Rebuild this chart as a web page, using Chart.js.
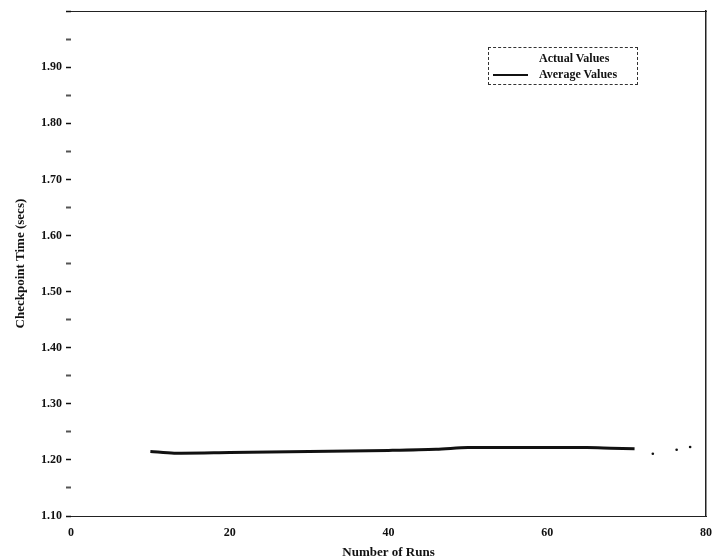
<!DOCTYPE html>
<html>
<head>
<meta charset="utf-8">
<script src="https://cdn.jsdelivr.net/npm/chart.js@4.4.0/dist/chart.umd.min.js"></script>
<style>
  body { margin: 0; background: #fff; }
  #wrap { position: relative; width: 715px; height: 560px; }
  #legend {
    position: absolute; left: 488px; top: 47px; width: 148px; height: 36px;
    border: 1px dashed #333; font: bold 12px "Liberation Serif", serif; color: #111;
  }
  #legend .row { position: absolute; left: 0; height: 14px; line-height: 14px; }
  #legend .swatch { position: absolute; left: 4px; top: 7px; width: 35px; height: 0; border-top: 2px solid #111; }
  #legend .txt { position: absolute; left: 50px; white-space: nowrap; }
</style>
</head>
<body>
<div id="wrap">
  <canvas id="chart" width="715" height="560"></canvas>
  <div id="legend">
    <div class="row" style="top:3px"><span class="txt">Actual Values</span></div>
    <div class="row" style="top:19px"><span class="swatch"></span><span class="txt">Average Values</span></div>
  </div>
</div>
<script>
// values
const runsAvg = [10, 13, 20, 25, 30, 35, 40, 46, 50, 55, 60, 65, 68, 71];
const timeAvg = [1.215, 1.212, 1.213, 1.214, 1.215, 1.216, 1.217, 1.219, 1.222, 1.222, 1.222, 1.222, 1.221, 1.220];
const runsActual = [73.3, 76.3, 78];
const timeActual = [1.211, 1.218, 1.223];

const serif = '"Liberation Serif", "DejaVu Serif", serif';

const avgPoints = runsAvg.map((x, i) => ({x: x, y: timeAvg[i]}));
const actualPoints = runsActual.map((x, i) => ({x: x, y: timeActual[i]}));

// major ticks every 0.1, minor every 0.05
const isMajor = (v) => Math.round(v * 100) % 10 === 0;

new Chart(document.getElementById('chart'), {
    type: 'line',
    data: {
        datasets: [{
            label: 'Actual Values',
            data: actualPoints,
            showLine: false,
            pointRadius: 1.3,
            pointBackgroundColor: '#111',
            pointBorderWidth: 0
        }, {
            label: 'Average Values',
            data: avgPoints,
            borderColor: '#111',
            borderWidth: 3,
            pointRadius: 0,
            tension: 0.3
        }]
    },
    options: {
        responsive: false,
        animation: false,
        layout: { padding: { left: 0, right: 9, top: 4, bottom: 0 } },
        plugins: { legend: { display: false }, tooltip: { enabled: false } },
        scales: {
            x: {
                type: 'linear', min: 0, max: 80,
                afterFit: (scale) => { scale.height = 44; },
                border: { display: true, color: '#222', width: 1 },
                grid: { display: false },
                ticks: {
                    stepSize: 20, padding: 2, color: '#111',
                    font: { family: serif, size: 12, weight: 'bold' }
                },
                title: {
                    display: true, text: 'Number of Runs', color: '#111', padding: { top: 0, bottom: 0 },
                    font: { family: serif, size: 13, weight: 'bold' }
                }
            },
            x2: {
                type: 'linear', position: 'top', min: 0, max: 80,
                afterFit: (scale) => { scale.height = 0; },
                border: { display: true, color: '#222', width: 1 },
                grid: { display: false },
                ticks: { display: false }
            },
            y: {
                type: 'linear', min: 1.10, max: 2.00,
                afterFit: (scale) => { scale.width = 71; },
                border: { display: false },
                grid: {
                    drawOnChartArea: false, drawTicks: true, tickLength: 5,
                    tickColor: (ctx) => isMajor(ctx.tick.value) ? '#111' : '#555',
                    tickWidth: (ctx) => isMajor(ctx.tick.value) ? 1.5 : 2
                },
                ticks: {
                    stepSize: 0.05, padding: 4, color: '#111',
                    font: { family: serif, size: 12, weight: 'bold' },
                    callback: (v) => isMajor(v) && v < 1.95 ? v.toFixed(2) : ''
                },
                title: {
                    display: true, text: 'Checkpoint Time (secs)', color: '#111', padding: { top: 13, bottom: 4 },
                    font: { family: serif, size: 13, weight: 'bold' }
                }
            },
            y2: {
                type: 'linear', position: 'right', min: 1.10, max: 2.00,
                afterFit: (scale) => { scale.width = 0; },
                border: { display: true, color: '#222', width: 1.5 },
                grid: { display: false },
                ticks: { display: false }
            }
        }
    }
});
</script>
</body>
</html>
